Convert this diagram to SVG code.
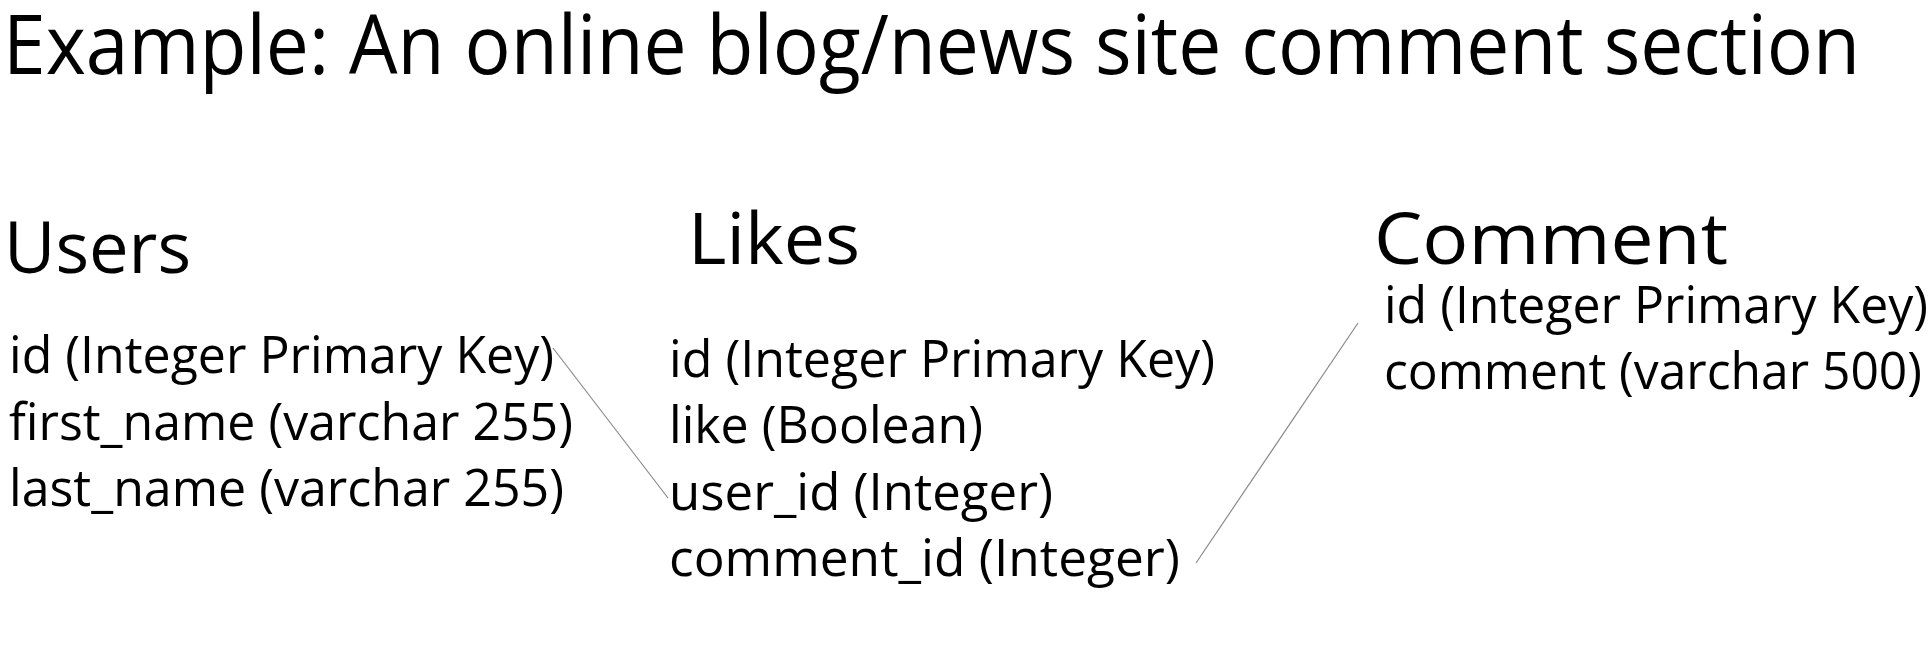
<svg xmlns="http://www.w3.org/2000/svg" width="1931" height="661" viewBox="0 0 1931 661">
<style>
text{font-family:"Open Sans","Noto Sans","Liberation Sans",sans-serif;fill:#000}
.title{font-size:83px}
.head{font-size:72px}
.row{font-size:52px}
.conn{stroke:#8a8a8a;stroke-width:1.2;fill:none}
</style>
<rect width="1931" height="661" fill="#fff"/>
<text class="title" x="3" y="74" textLength="1857" lengthAdjust="spacingAndGlyphs">Example: An online blog/news site comment section</text>
<g id="users">
<text class="head" x="4" y="273" textLength="187" lengthAdjust="spacingAndGlyphs">Users</text>
<text class="row" x="9" y="373" textLength="545" lengthAdjust="spacingAndGlyphs">id (Integer Primary Key)</text>
<text class="row" x="9" y="440" textLength="564" lengthAdjust="spacingAndGlyphs">first_name (varchar 255)</text>
<text class="row" x="9" y="506" textLength="555" lengthAdjust="spacingAndGlyphs">last_name (varchar 255)</text>
</g>
<g id="likes">
<text class="head" x="688" y="264" textLength="172" lengthAdjust="spacingAndGlyphs">Likes</text>
<text class="row" x="669" y="377" textLength="546" lengthAdjust="spacingAndGlyphs">id (Integer Primary Key)</text>
<text class="row" x="669" y="443" textLength="314" lengthAdjust="spacingAndGlyphs">like (Boolean)</text>
<text class="row" x="669" y="510" textLength="384" lengthAdjust="spacingAndGlyphs">user_id (Integer)</text>
<text class="row" x="669" y="576" textLength="511" lengthAdjust="spacingAndGlyphs">comment_id (Integer)</text>
</g>
<g id="comment">
<text class="head" x="1374" y="264" textLength="354" lengthAdjust="spacingAndGlyphs">Comment</text>
<text class="row" x="1384" y="323" textLength="544" lengthAdjust="spacingAndGlyphs">id (Integer Primary Key)</text>
<text class="row" x="1384" y="389" textLength="538" lengthAdjust="spacingAndGlyphs">comment (varchar 500)</text>
</g>
<g id="connectors">
<line class="conn" x1="553" y1="348" x2="668" y2="498"/>
<line class="conn" x1="1196" y1="563" x2="1358" y2="323"/>
</g>
</svg>
